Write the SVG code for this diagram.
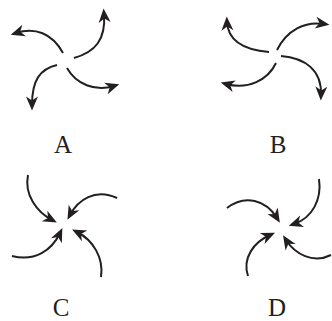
<svg xmlns="http://www.w3.org/2000/svg" width="332" height="321" viewBox="0 0 332 321">
<style>
.c{fill:none;stroke:#231f20;stroke-width:2;marker-end:url(#ah)}
.l{font-family:"Liberation Serif","DejaVu Serif",serif;font-size:25px;fill:#231f20;text-anchor:middle}
</style>
<defs>
<marker id="ah" markerUnits="userSpaceOnUse" orient="auto" overflow="visible" markerWidth="1" markerHeight="1" refX="0" refY="0">
<path d="M5.5,0 L-8.5,-6 L-4.5,0 L-8.5,6 Z" fill="#231f20"/>
</marker>
</defs>
<rect width="332" height="321" fill="#fff"/>
<g id="connectors">
<g id="panelA-arrows">
<path class="c" d="M63,53 C52,33 35,27 16,33"/>
<path class="c" d="M74,58 C95,52 106,40 104,14"/>
<path class="c" d="M57,65 C40,69 32,80 32,105"/>
<path class="c" d="M67,68 C76,84 95,92 114,86"/>
</g>
<g id="panelB-arrows">
<path class="c" d="M269,52 C245,50 228,42 227,22"/>
<path class="c" d="M277,50 C287,30 305,21 324,24"/>
<path class="c" d="M276,63 C268,80 248,90 226,84"/>
<path class="c" d="M281,56 C305,58 322,70 321,95"/>
</g>
<g id="panelC-arrows">
<path class="c" d="M28,175 C24,195 37,212 52,220"/>
<path class="c" d="M117,198 C95,188 78,200 70,215"/>
<path class="c" d="M12,256 C35,262 52,250 60,233"/>
<path class="c" d="M101,277 C104,258 93,240 77,232"/>
</g>
<g id="panelD-arrows">
<path class="c" d="M227,208 C245,194 266,200 277,218"/>
<path class="c" d="M319,179 C322,200 312,218 294,224"/>
<path class="c" d="M248,276 C242,258 254,242 270,235"/>
<path class="c" d="M331,255 C313,264 295,254 286,240"/>
</g>
</g>
<g id="labelA"><text class="l" x="63" y="153">A</text></g>
<g id="labelB"><text class="l" x="278" y="153">B</text></g>
<g id="labelC"><text class="l" x="61" y="316">C</text></g>
<g id="labelD"><text class="l" x="277" y="316">D</text></g>
</svg>
